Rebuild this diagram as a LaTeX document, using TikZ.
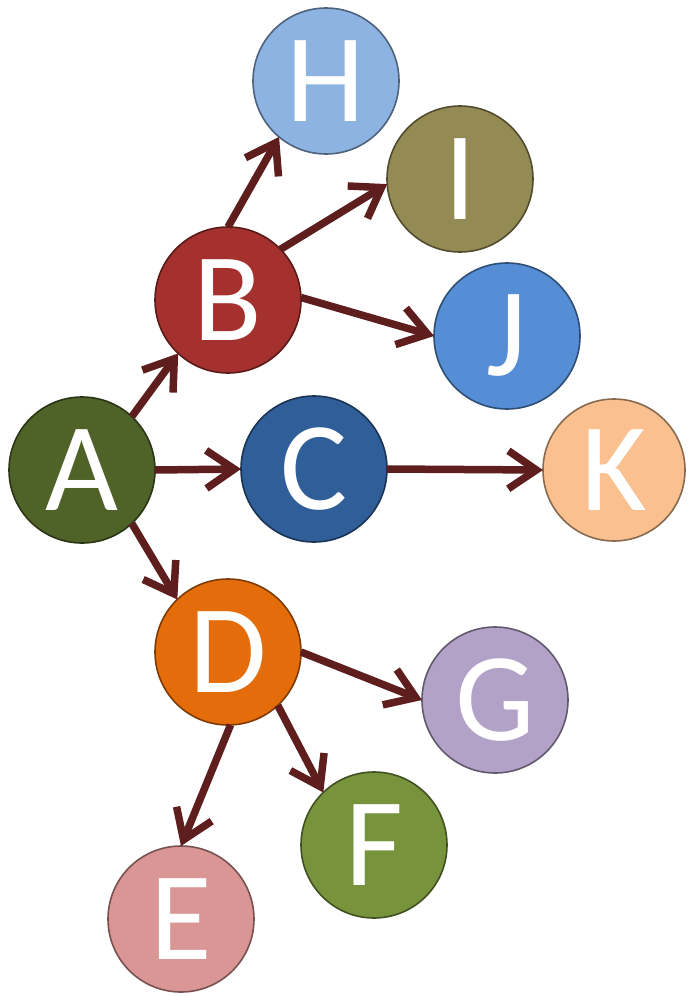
\documentclass[tikz,border=0pt]{standalone}
\usepackage{fontspec}
\setmainfont{Carlito}
\usetikzlibrary{arrows.meta}
\definecolor{cH}{HTML}{8DB3E2}
\definecolor{cI}{HTML}{948A54}
\definecolor{cB}{HTML}{A4312E}
\definecolor{cJ}{HTML}{558ED5}
\definecolor{cA}{HTML}{4F6228}
\definecolor{cC}{HTML}{2F5E98}
\definecolor{cK}{HTML}{FAC090}
\definecolor{cD}{HTML}{E46C0A}
\definecolor{cG}{HTML}{B3A2C7}
\definecolor{cF}{HTML}{77933C}
\definecolor{cE}{HTML}{D99694}
\definecolor{arr}{HTML}{5E1E1E}
\tikzset{
  ball/.style={circle, minimum size=146pt, inner sep=0pt, outer sep=0pt,
    fill=#1, draw=#1!55!black, line width=1.6pt, text=white,
    font=\fontsize{126}{126}\selectfont},
  link/.style={draw=arr, line width=7.5pt,
    -{Straight Barb[length=28pt,width=38pt,line width=7.5pt]}}
}
\begin{document}
\begin{tikzpicture}[x=1pt,y=-1pt]
\useasboundingbox (0,0) rectangle (688,996);
\node[ball=cH] (H) at (326,81) {H};
\node[ball=cI] (I) at (460,179) {I};
\node[ball=cB] (B) at (228,300) {B};
\node[ball=cJ] (J) at (507,336) {J};
\node[ball=cA] (A) at (82,470) {A};
\node[ball=cC] (C) at (314,469) {C};
\node[ball=cK, minimum size=142pt] (K) at (614,470) {K};
\node[ball=cD] (D) at (228,652) {D};
\node[ball=cG] (G) at (495,700) {G};
\node[ball=cF] (F) at (374,845) {F};
\node[ball=cE] (E) at (181,919) {E};
\draw[link] (A.47) -- (B.227);
\draw[link] (A.0) -- (C.180);
\draw[link] (A.-47) -- (D.134);
\draw[link] (B.90) -- (H.230);
\draw[link] (B.44) -- (I.184);
\draw[link] (B.2) -- (J.180);
\draw[link] (C.0) -- (K.180);
\draw[link] (D.0) -- (G.180);
\draw[link] (D.-47) -- (F.134);
\draw[link] (D.-88) -- (E.90);
\end{tikzpicture}
\end{document}
